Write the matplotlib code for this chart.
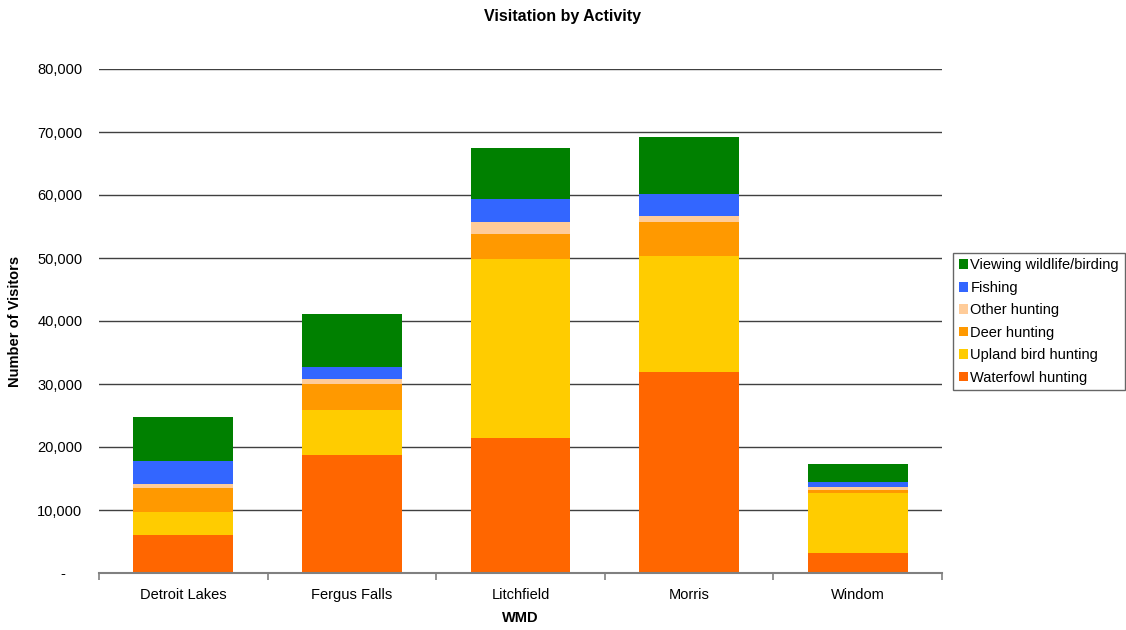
import matplotlib
matplotlib.use("Agg")
import matplotlib.pyplot as plt
import matplotlib.transforms as mtransforms
from matplotlib.patches import Patch
from matplotlib.ticker import FuncFormatter
import numpy as np

plt.rcParams['font.family'] = ['Liberation Sans', 'DejaVu Sans']

# Data
wmds = ["Detroit Lakes", "Fergus Falls", "Litchfield", "Morris", "Windom"]
waterfowl = [6000, 18700, 21400, 31900, 3200]
upland_bird = [3700, 7200, 28500, 18400, 9500]
deer = [3800, 4100, 3900, 5400, 500]
other_hunting = [600, 800, 1900, 1000, 450]
fishing = [3700, 1900, 3700, 3500, 750]
viewing = [7000, 8400, 8100, 9000, 2900]

series = [
    ("Waterfowl hunting", waterfowl, "#FF6600"),
    ("Upland bird hunting", upland_bird, "#FFCC00"),
    ("Deer hunting", deer, "#FF9900"),
    ("Other hunting", other_hunting, "#FFCC99"),
    ("Fishing", fishing, "#3366FF"),
    ("Viewing wildlife/birding", viewing, "#008000"),
]

fig = plt.figure(figsize=(11.26, 6.30), dpi=100)
ax = fig.add_axes([99 / 1126, 57 / 630, 843 / 1126, 504 / 630])

x = np.arange(len(wmds))
bottom = np.zeros(len(wmds))
for name, vals, color in series:
    vals = np.array(vals, dtype=float)
    ax.bar(x, vals, bottom=bottom, width=0.593, color=color, zorder=3, linewidth=0)
    bottom += vals

ax.set_xlim(-0.5, len(wmds) - 0.5)
ax.set_ylim(0, 80000)
ax.set_yticks(np.arange(0, 80001, 10000))
ax.yaxis.set_major_formatter(FuncFormatter(lambda v, p: "-" if v == 0 else f"{int(v):,}"))
ax.grid(axis='y', color='#404040', linewidth=1.0, zorder=0)
ax.tick_params(axis='y', length=0, pad=12, labelsize=10.5, colors='black')

# category ticks sit on the boundaries between groups
ax.set_xticks(np.arange(-0.5, len(wmds), 1.0))
ax.set_xticklabels([])
ax.set_xticks(x, minor=True)
ax.set_xticklabels(wmds, minor=True)
ax.tick_params(axis='x', which='major', length=5, width=1.2, color='#808080', direction='out')
ax.tick_params(axis='x', which='minor', length=0, pad=10.5, labelsize=10.5)

for s in ['top', 'right', 'left']:
    ax.spines[s].set_visible(False)
ax.spines['bottom'].set_color('#808080')
ax.spines['bottom'].set_linewidth(1.5)
ax.spines['bottom'].set_zorder(4)

# shift the zero label left, like an accounting format
zero_lbl = ax.get_yticklabels()[0]
zero_lbl.set_transform(zero_lbl.get_transform() +
                       mtransforms.ScaledTranslation(-17 / 100, 0, fig.dpi_scale_trans))

ax.set_ylabel("Number of Visitors", fontsize=10.5, fontweight='bold')
ax.yaxis.set_label_coords((22 - 99) / 843, 0.5)
ax.set_xlabel("WMD", fontsize=10.5, fontweight='bold')
ax.xaxis.set_label_coords(0.5, -(611 - 573) / 504)
fig.text(0.5, 1 - 17 / 630, "Visitation by Activity", ha='center', va='center',
         fontsize=11.5, fontweight='bold')

handles = [Patch(facecolor=c, edgecolor='none', label=n) for n, _, c in reversed(series)]
leg = fig.legend(handles=handles, loc='center left',
                 bbox_to_anchor=(953 / 1126, 1 - 321.5 / 630),
                 frameon=True, fancybox=False, edgecolor='#404040',
                 fontsize=10.5, handlelength=0.65, handleheight=0.65,
                 handletextpad=0.15, labelspacing=0.58, borderpad=0.4,
                 borderaxespad=0)
leg.get_frame().set_linewidth(1.0)

fig.savefig("out.png", dpi=100)
